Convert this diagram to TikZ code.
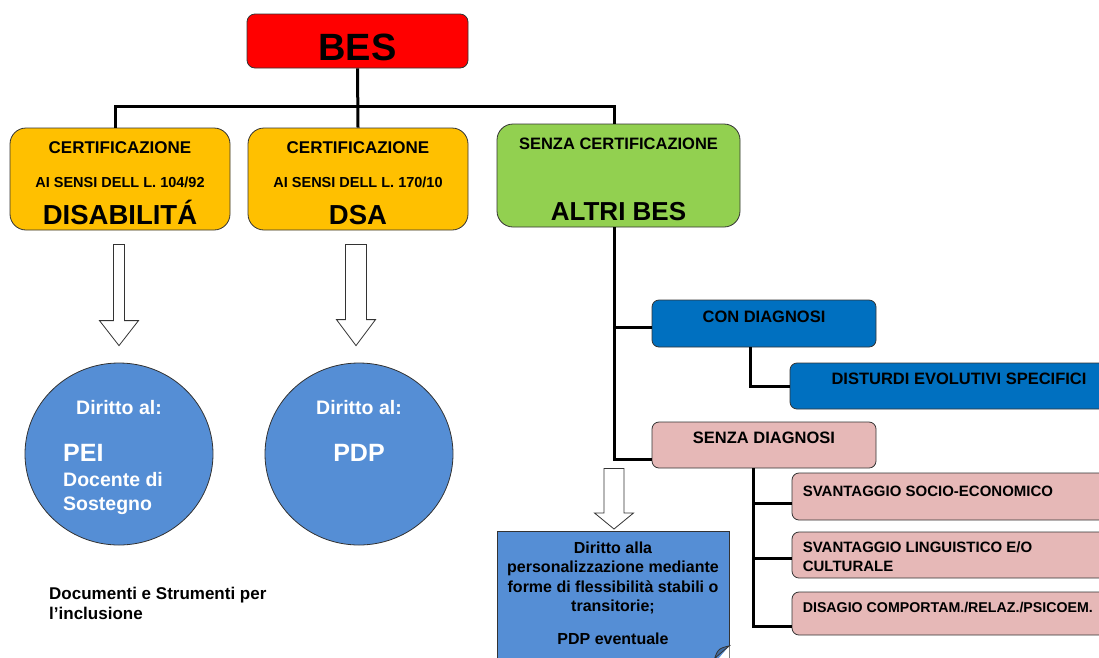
\documentclass[tikz,border=0pt]{standalone}
\usepackage{fontspec}
\setmainfont{Liberation Sans}
\usetikzlibrary{calc,shapes.geometric}

\definecolor{besred}{HTML}{FF0000}
\definecolor{certorange}{HTML}{FFC000}
\definecolor{altrigreen}{HTML}{92D050}
\definecolor{diagblue}{HTML}{0070C0}
\definecolor{nodiagpink}{HTML}{E6B8B7}
\definecolor{dirittoblue}{HTML}{558ED5}

\newcommand{\sz}[2]{\fontsize{#1}{#2}\selectfont\bfseries}
% #1 from, #2 to, #3 half shaft, #4 half head, #5 head length
\newcommand{\hollowarrow}[5]{%
  \draw[hollow] let \p1=(#1), \p2=(#2) in
    (\x1-#3,\y1) -- (\x1+#3,\y1) -- (\x1+#3,\y2+#5) -- (\x1+#4,\y2+#5)
    -- (\x1,\y2) -- (\x1-#4,\y2+#5) -- (\x1-#3,\y2+#5) -- cycle;}

\tikzset{
  box/.style={draw=black!80, line width=0.8pt, inner sep=0pt},
  certbox/.style={box, fill=certorange, rounded corners=16pt, minimum width=220pt, minimum height=102pt},
  diagbox/.style={box, rounded corners=7pt, minimum height=46pt},
  dirittocircle/.style={box, ellipse, fill=dirittoblue, minimum width=188pt, minimum height=182pt},
  lbl/.style={anchor=base, inner sep=0pt},
  link/.style={line width=3pt},
  hollow/.style={draw=black!80, fill=white, line width=0.8pt, line join=miter},
}

\begin{document}
\begin{tikzpicture}[x=1pt,y=-1pt]
  \useasboundingbox (0,0) rectangle (1099,657);

  % boxes
  \node[box, fill=besred, rounded corners=8pt, minimum width=221pt, minimum height=54pt] (bes) at (357.5,41) {};
  \node[certbox] (disab) at (120,179) {};
  \node[certbox] (dsa) at (358,179) {};
  \node[box, fill=altrigreen, rounded corners=16pt, minimum width=243pt, minimum height=103pt] (altri) at (618.5,175.5) {};
  \node[diagbox, fill=diagblue, minimum width=224pt, minimum height=47pt] (con) at (764,323.5) {};
  \node[diagbox, fill=diagblue, minimum width=338pt] (dev) at (959,386) {};
  \node[diagbox, fill=nodiagpink, minimum width=224pt] (senza) at (764,445) {};
  \node[diagbox, fill=nodiagpink, minimum width=336pt, minimum height=47pt] (socio) at (960,496.5) {};
  \node[diagbox, fill=nodiagpink, minimum width=336pt] (ling) at (960,555) {};
  \node[diagbox, fill=nodiagpink, minimum width=336pt, minimum height=43pt] (disagio) at (960,613.5) {};
  \node[dirittocircle] (pei) at (119,454) {};
  \node[dirittocircle] (pdp) at (359,454) {};
  \node[box, fill=dirittoblue, minimum width=232pt, minimum height=134pt, anchor=north] (note) at (613,531) {};
  \fill[white] ($(note.south east)+(0,-20)$) -- (note.south east) -- ($(note.south east)+(-17,0)$) -- cycle;
  \filldraw[fill=dirittoblue!75!black, draw=black!80, line width=0.8pt]
    ($(note.south east)+(0,-20)$) .. controls ($(note.south east)+(-12,-17)$) .. ($(note.south east)+(-17,0)$)
    -- ($(note.south east)+(-13,-9)$) -- cycle;

  % labels
  \node[lbl, font=\sz{38}{38}] at ($(bes.north)+(0,47)$) {BES};
  \node[lbl, font=\sz{17}{17}] at ($(disab.north)+(0,26)$) {CERTIFICAZIONE};
  \node[lbl, font=\sz{14.5}{14.5}] at ($(disab.north)+(0,60)$) {AI SENSI DELL L. 104/92};
  \node[lbl, font=\sz{27.5}{27.5}] at ($(disab.north)+(0,97)$) {DISABILITÁ};
  \node[lbl, font=\sz{17}{17}] at ($(dsa.north)+(0,26)$) {CERTIFICAZIONE};
  \node[lbl, font=\sz{14.5}{14.5}] at ($(dsa.north)+(0,60)$) {AI SENSI DELL L. 170/10};
  \node[lbl, font=\sz{27.5}{27.5}] at ($(dsa.north)+(0,97)$) {DSA};
  \node[lbl, font=\sz{16.5}{16.5}] at ($(altri.north)+(0,26)$) {SENZA CERTIFICAZIONE};
  \node[lbl, font=\sz{26}{26}] at ($(altri.north)+(0,97)$) {ALTRI BES};
  \node[lbl, font=\sz{16.5}{16.5}] at ($(con.north)+(0,23)$) {CON DIAGNOSI};
  \node[lbl, font=\sz{16.5}{16.5}] at ($(dev.north)+(0,22)$) {DISTURDI EVOLUTIVI SPECIFICI};
  \node[lbl, font=\sz{16.5}{16.5}] at ($(senza.north)+(0,22)$) {SENZA DIAGNOSI};
  \node[lbl, anchor=base west, font=\sz{15}{15}] at ($(socio.north west)+(11,24)$) {SVANTAGGIO SOCIO-ECONOMICO};
  \node[lbl, anchor=north west, align=left, font=\sz{15}{19}] at ($(ling.north west)+(11,10)$) {SVANTAGGIO LINGUISTICO E/O\\CULTURALE};
  \node[lbl, anchor=base west, font=\sz{14.2}{14.2}] at ($(disagio.north west)+(11,21)$) {DISAGIO COMPORTAM./RELAZ./PSICOEM.};
  \node[lbl, text=white, font=\sz{19.5}{19.5}] at ($(pei.center)+(0,-40)$) {Diritto al:};
  \node[lbl, anchor=base west, text=white, font=\sz{25}{25}] at ($(pei.center)+(-56,7)$) {PEI};
  \node[lbl, anchor=north west, align=left, text=white, font=\sz{19.5}{24}] at ($(pei.center)+(-56,18)$) {Docente di\\Sostegno};
  \node[lbl, text=white, font=\sz{19.5}{19.5}] at ($(pdp.center)+(0,-40)$) {Diritto al:};
  \node[lbl, text=white, font=\sz{25}{25}] at ($(pdp.center)+(0,7)$) {PDP};
  \node[lbl, anchor=north, align=center, font=\sz{16}{19.5}] at ($(note.north)+(0,10.5)$)
    {Diritto alla\\personalizzazione mediante\\forme di flessibilità stabili o\\transitorie;\\[13pt]PDP eventuale};
  \node[lbl, anchor=north west, align=left, font=\sz{17}{20}] (docs) at (49,586.5) {Documenti e Strumenti per\\l’inclusione};

  % connectors
  \coordinate (hub) at (357.5,106);
  \coordinate (trunk) at ([xshift=-4.5pt]altri.south);
  \coordinate (sub) at ($(senza.south west)+(102,0)$);
  \draw[link] (bes.south) -- (dsa.north);
  \draw[link] ([xshift=-5pt]disab.north) |- (hub) -| ([xshift=-4.5pt]altri.north);
  \draw[link] (trunk) |- ($(senza.west)+(0,14)$);
  \draw[link] ($(con.west)+(0,3.5)$) -| (trunk);
  \draw[link] ($(con.south west)+(99,0)$) |- (dev.west);
  \draw[link] (sub) |- ($(socio.west)+(0,6.5)$);
  \draw[link] (sub) |- ($(ling.west)+(0,3)$);
  \draw[link] (sub) |- ($(disagio.west)+(0,12.5)$);

  \hollowarrow{$(disab.south)+(-1,14)$}{$(pei.north)+(0,-17)$}{5.5}{19.5}{25}
  \hollowarrow{$(dsa.south)+(-2,14)$}{$(pdp.north)+(0,-17)$}{10.5}{19.5}{26}
  \hollowarrow{trunk |- senza.south}{$(note.north)+(0,-2)$}{10}{19.5}{16}
\end{tikzpicture}
\end{document}
